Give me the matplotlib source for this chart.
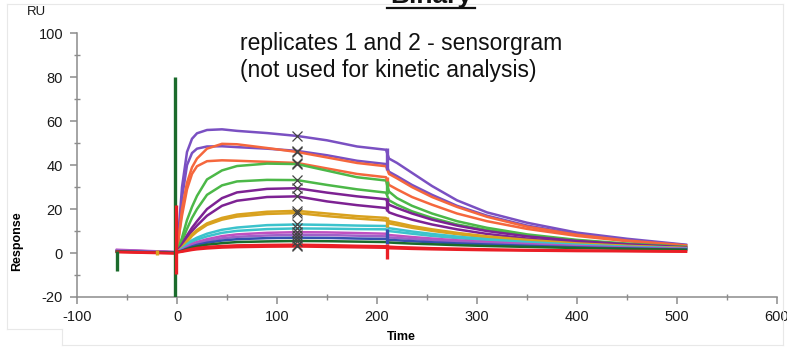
import numpy as np
import matplotlib.pyplot as plt
from matplotlib.lines import Line2D

plt.rcParams['font.family'] = ['Liberation Sans', 'DejaVu Sans']
plt.rcParams['axes.unicode_minus'] = False

# sampling times (s) shared by all sensorgram traces
T = [-60, -3, 0, 2, 5, 10, 15, 20, 30, 45, 60, 90, 120, 150, 180, 209,
     212, 220, 235, 255, 280, 310, 350, 400, 450, 509]

# responses (RU) of each trace, highest to lowest
purple_1 = [1.0, 0.3, 0.5, 12, 30, 46, 52, 54.5, 56, 56.3, 55.6, 54.6, 53.3, 51.3, 48.5, 47,
            43, 41, 36.5, 30.5, 24, 18.5, 13.8, 9.3, 6.5, 3.8]
purple_2 = [1.2, 0.4, 0.5, 10, 25, 40, 45.5, 47.5, 48.5, 48.6, 48.2, 47.5, 46.5, 44.5, 42, 40.5,
            37, 35, 31, 26.5, 21.5, 17, 12.5, 8.6, 5.9, 3.6]
orange_1 = [0.9, 0.2, 0.5, 8, 20, 32, 39, 43, 47.5, 49.7, 49.5, 47.8, 46, 43.5, 41, 39.5,
            36, 34, 30, 25.5, 21, 16.5, 12, 8.3, 5.7, 3.5]
orange_2 = [0.8, 0.2, 0.5, 8, 17, 29, 36, 39.5, 41.8, 42.2, 42, 41.5, 41, 38.5, 36, 34.5,
            31, 29, 25.5, 22, 18, 14.5, 11, 7.8, 5.4, 3.3]
green_1 = [0.9, 0.3, 0.5, 3, 7, 15, 21, 26, 33.5, 37.6, 39.6, 40.7, 40.5, 37.5, 34.5, 33,
           28, 25, 21.5, 18, 14.5, 11.5, 8.5, 6, 4.3, 2.8]
green_2 = [0.8, 0.2, 0.5, 2.5, 5.5, 11, 16, 20, 26.5, 30.8, 32.6, 33.3, 33.2, 31, 29, 27.5,
           24, 22, 19, 16, 13, 10.5, 8, 5.7, 4.1, 2.7]
purple_3 = [1.0, 0.3, 0.5, 1.8, 4, 8, 11.5, 14.5, 20, 25, 27.6, 29.2, 29.5, 27.5, 25.8, 24.5,
            22, 20.5, 18, 15.2, 12.5, 10, 7.6, 5.5, 4, 2.6]
purple_4 = [0.9, 0.2, 0.5, 1.5, 3.3, 7, 10, 12.5, 17, 21.5, 23.8, 25.5, 25.8, 23.5, 21.8, 20.5,
            18.5, 17.2, 15.2, 13, 10.8, 8.7, 6.6, 4.8, 3.6, 2.4]
gold_1 = [0.8, 0.3, 0.5, 1.2, 2.5, 5.5, 8.5, 10.5, 13.5, 16, 17.5, 18.8, 19.2, 18, 16.8, 16,
          14.5, 13.8, 12.3, 10.8, 9.2, 7.6, 6, 4.4, 3.3, 2.3]
gold_2 = [0.7, 0.2, 0.5, 1.1, 2.3, 5, 7.8, 9.8, 12.8, 15.2, 16.6, 17.8, 18.2, 16.8, 15.7, 14.8,
          13.5, 12.8, 11.5, 10.1, 8.6, 7.1, 5.6, 4.1, 3.1, 2.2]
cyan_1 = [0.9, 0.3, 0.5, 1, 2, 4, 5.8, 7, 8.8, 10.6, 11.6, 12.7, 13, 12.8, 12.5, 12.3,
          11.3, 10.8, 9.8, 8.7, 7.5, 6.3, 5, 3.8, 2.9, 2.1]
cyan_2 = [0.8, 0.2, 0.5, 0.9, 1.8, 3.5, 5, 6.1, 7.6, 9.2, 10.1, 10.9, 11.2, 11.1, 10.9, 10.8,
          10, 9.6, 8.8, 7.8, 6.8, 5.8, 4.6, 3.5, 2.7, 2]
magenta_1 = [1.5, 0.5, 0.5, 0.8, 1.5, 2.9, 4.1, 5, 6.3, 7.7, 8.5, 9.2, 9.5, 9.4, 9.1, 8.8,
             8.2, 7.9, 7.3, 6.6, 5.8, 5, 4.1, 3.2, 2.5, 1.9]
magenta_2 = [1.3, 0.4, 0.5, 0.7, 1.3, 2.5, 3.5, 4.3, 5.5, 6.7, 7.4, 8, 8.3, 8.2, 7.9, 7.6,
             7.1, 6.9, 6.4, 5.8, 5.2, 4.5, 3.7, 2.9, 2.3, 1.8]
blue = [0.8, 0.2, 0.5, 0.7, 1.1, 2.1, 3, 3.7, 4.7, 5.7, 6.3, 6.8, 7, 6.9, 6.6, 6.4,
        6, 5.8, 5.4, 4.9, 4.4, 3.9, 3.3, 2.6, 2.1, 1.6]
dark_green = [0.7, 0.1, 0.5, 0.6, 1, 1.8, 2.5, 3, 3.8, 4.5, 5, 5.3, 5.5, 5.4, 5.2, 5,
              4.8, 4.6, 4.3, 4, 3.6, 3.2, 2.8, 2.3, 1.9, 1.5]
red_1 = [0.6, 0.0, 0.5, 0.5, 0.8, 1.4, 1.9, 2.3, 2.8, 3.2, 3.5, 3.7, 3.8, 3.6, 3.3, 3.1,
         2.9, 2.7, 2.5, 2.2, 2, 1.7, 1.4, 1.2, 1, 0.8]
red_2 = [0.4, -0.2, 0.3, 0.4, 0.6, 1.0, 1.4, 1.7, 2.1, 2.5, 2.7, 2.9, 3.0, 2.8, 2.6, 2.4,
         2.2, 2.1, 1.9, 1.7, 1.5, 1.3, 1.1, 0.9, 0.8, 0.6]

# injection artefacts: time, lower and upper response, trace they belong to
spike_t = [-60, -20, -2, -1, 210, 210, 210, 210, 210, 210, 210]
spike_lo = [-8, -1, -20, -9.5, 38, 31, 27, 19, 12, 4, -2.5]
spike_hi = [0.8, 1.5, 80, 22, 48, 34.5, 33, 25, 16.5, 11, 4]
spike_trace = ['dark_green', 'gold_1', 'dark_green', 'red_1', 'purple_1', 'orange_2',
               'green_1', 'purple_3', 'gold_1', 'blue', 'red_1']

marker_time = 120

colors = {
    'purple_1': '#7a50c2', 'purple_2': '#7a50c2',
    'orange_1': '#f5673d', 'orange_2': '#f5673d',
    'green_1': '#4cb848', 'green_2': '#4cb848',
    'purple_3': '#7d2293', 'purple_4': '#7d2293',
    'gold_1': '#d9a21f', 'gold_2': '#d9a21f',
    'cyan_1': '#3cc3cc', 'cyan_2': '#3cc3cc',
    'magenta_1': '#c050c0', 'magenta_2': '#a060c8',
    'blue': '#3550b0', 'dark_green': '#1b6b2c',
    'red_1': '#ea1f26', 'red_2': '#ea1f26',
}
traces = {
    'purple_1': purple_1, 'purple_2': purple_2, 'orange_1': orange_1, 'orange_2': orange_2,
    'green_1': green_1, 'green_2': green_2, 'purple_3': purple_3, 'purple_4': purple_4,
    'gold_1': gold_1, 'gold_2': gold_2, 'cyan_1': cyan_1, 'cyan_2': cyan_2,
    'magenta_1': magenta_1, 'magenta_2': magenta_2, 'blue': blue,
    'dark_green': dark_green, 'red_1': red_1, 'red_2': red_2,
}

fig = plt.figure(figsize=(7.87, 3.47), dpi=100)
ax = fig.add_axes([77 / 787, 1 - 297 / 347, 700 / 787, 263.7 / 347])

for name, vals in traces.items():
    ax.plot(T, vals, color=colors[name], lw=1.8, solid_joinstyle='round', zorder=2)

for t, lo, hi, name in zip(spike_t, spike_lo, spike_hi, spike_trace):
    ax.vlines(t, lo, hi, color=colors[name], lw=2.4, zorder=3)

# report points at the end of the association phase
i_mark = T.index(marker_time)
mark_vals = [vals[i_mark] for vals in traces.values()]
ax.plot([marker_time] * len(mark_vals), mark_vals, 'x', color='#444444', ms=7, mew=0.9, zorder=4)

ax.set_xlim(-100, 600)
ax.set_ylim(-20, 100)
ax.set_xticks(range(-100, 601, 100))
ax.set_xticks(range(-50, 600, 100), minor=True)
ax.set_yticks(range(-20, 101, 20))
ax.set_yticks(range(-10, 100, 20), minor=True)

for side in ['top', 'right']:
    ax.spines[side].set_visible(False)
for side in ['left', 'bottom']:
    ax.spines[side].set_color('#8c8c8c')
    ax.spines[side].set_linewidth(1.1)
ax.tick_params(which='major', direction='out', length=5, width=1.1, color='#8c8c8c',
               labelsize=10.5, labelcolor='#1a1a1a')
ax.tick_params(axis='x', which='major', pad=4.5)
ax.tick_params(axis='y', which='major', pad=5)
ax.tick_params(which='minor', direction='inout', length=4, width=1.0, color='#8c8c8c')

ax.set_xlabel('Time', fontsize=9, fontweight='bold')
ax.xaxis.set_label_coords((401 - 76.7) / 700, -(337.5 - 297) / 263.7)
ax.xaxis.label.set_va('center')
ax.set_ylabel('Response', fontsize=9, fontweight='bold')
ax.yaxis.set_label_coords(-(77.3 - 17.5) / 700, (297 - 241) / 263.7)
ax.yaxis.label.set_va('center')

fig.text(36 / 787, 1 - 12 / 347, 'RU', fontsize=9.5, ha='center', va='center', color='#1a1a1a')

fig.text(240 / 787, 1 - 50 / 347, 'replicates 1 and 2 - sensorgram', fontsize=16.5,
         va='baseline', ha='left', color='#111111')
fig.text(240 / 787, 1 - 77 / 347, '(not used for kinetic analysis)', fontsize=16.5,
         va='baseline', ha='left', color='#111111')

# heading sits mostly above the top edge
fig.text(431 / 787, 1 - 3 / 347, 'Binary', fontsize=19, fontweight='bold',
         ha='center', va='baseline', color='#111111')
fig.add_artist(Line2D([387 / 787, 475 / 787], [1 - 7.8 / 347] * 2, color='#111111', lw=1.6))

# faint frame lines around the panel
frame = '#e8e8e8'
px = [(7, 4, 783, 4), (7, 4, 7, 329), (7, 329, 62, 329), (62, 329, 62, 345),
      (62, 345, 783, 345), (783, 4, 783, 345)]
for x0, y0, x1, y1 in px:
    fig.add_artist(Line2D([x0 / 787, x1 / 787], [1 - y0 / 347, 1 - y1 / 347], color=frame, lw=0.8))

fig.savefig('out.png', dpi=100)
